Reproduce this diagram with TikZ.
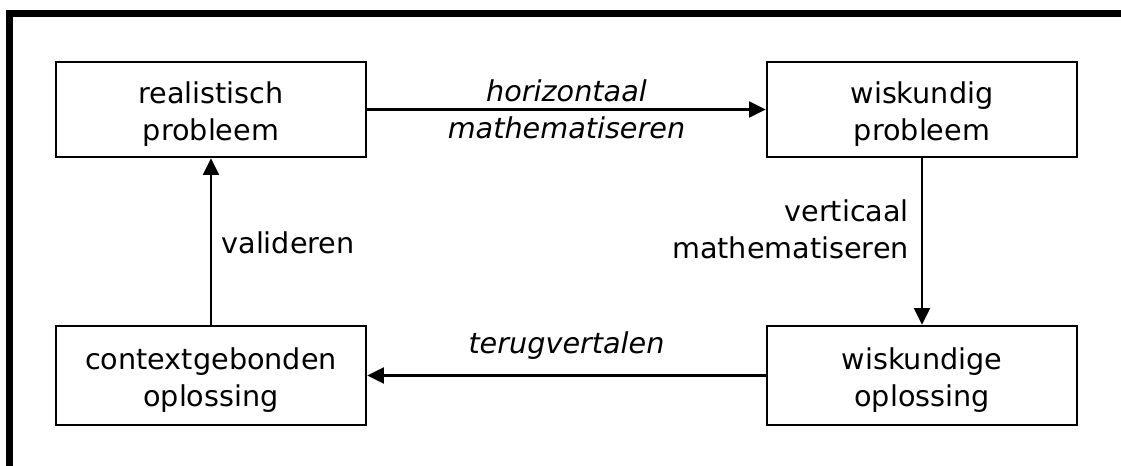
\documentclass[tikz,border=0pt]{standalone}
\usepackage{fontspec}
\setmainfont{DejaVu Sans}
\usetikzlibrary{arrows.meta}
\tikzset{
  bx/.style={draw,line width=1.9pt,minimum width=232.5pt,minimum height=71.25pt,align=center,inner sep=0pt},
  ar/.style={line width=1.7pt,-{Triangle[length=12.5pt,width=12pt]}},
  lb/.style={inner sep=0pt,align=center},
  frm/.style={line width=4.9pt}
}
\newcommand{\bxfont}{\fontsize{21.5pt}{27.5pt}\selectfont}
\newcommand{\hstrut}{\rule{0pt}{23pt}}

\begin{document}
\begin{tikzpicture}[x=0.75pt,y=-0.75pt,font=\bxfont]
\useasboundingbox (0,0) rectangle (1121,466);
\draw[frm] (9.5,470) -- (9.5,13.5) -- (1125,13.5);
\node[bx] (rp) at (211,109.5) {\hstrut realistisch\\probleem};
\node[bx] (wp) at (922,109.5) {\hstrut wiskundig\\probleem};
\node[bx,minimum height=74.25pt] (co) at (211,375.5) {\hstrut contextgebonden\\oplossing};
\node[bx,minimum height=74.25pt] (wo) at (922,375.5) {\hstrut wiskundige\\oplossing};
\draw[ar] (rp) -- node[lb,midway,font=\bxfont\itshape] {horizontaal\\mathematiseren} (wp);
\draw[ar] (wp) -- node[lb,pos=0.428,left=9pt,align=right] {verticaal\\mathematiseren} (wo);
\draw[ar] (wo) -- node[lb,midway,above=11pt,font=\bxfont\itshape] {terugvertalen} (co);
\draw[ar] (co) -- node[lb,pos=0.49,right=7pt] {valideren} (rp);
\end{tikzpicture}
\end{document}
